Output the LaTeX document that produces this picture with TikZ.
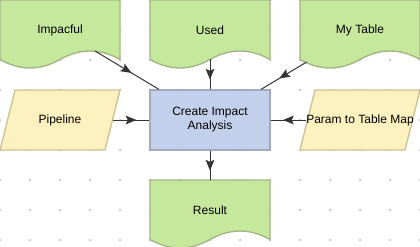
\documentclass[tikz,border=0pt]{standalone}
\usepackage{fontspec}
\setmainfont{Liberation Sans}
\usepackage{xcolor}
\usetikzlibrary{arrows.meta,calc,decorations.markings}
\definecolor{gruen}{HTML}{C6E89C}
\definecolor{gruenrand}{HTML}{A3B584}
\definecolor{gelb}{HTML}{FDF1BF}
\definecolor{gelbrand}{HTML}{CCC192}
\definecolor{blau}{HTML}{C3D0EB}
\definecolor{blaurand}{HTML}{A2ABBC}
\definecolor{linie}{HTML}{333333}
\definecolor{raster}{HTML}{CFCFCF}
\tikzset{
  feld/.style={inner sep=0pt,align=center,minimum width=90pt,minimum height=45pt,
    font=\fontsize{9}{10.5}\selectfont},
  doku/.style={fill=gruen,draw=gruenrand,line width=1pt},
  para/.style={fill=gelb,draw=gelbrand,line width=1pt},
  prozess/.style={feld,fill=blau,draw=blaurand,line width=1pt},
  flow/.style={draw=linie,line width=0.75pt,postaction={decorate},
    decoration={markings,mark=at position 0.5 with
      {\arrow[xshift=4pt]{Stealth[length=8pt,width=6.5pt,inset=1.5pt]}}}}
}
\newcommand{\Dokument}[4]{%
  \filldraw[doku] (#2-60,#3-30) -- (#2+60,#3-30) -- (#2+60,#3+29.5)
    .. controls (#2+40,#3+18.2) and (#2+20,#3+18.2) .. (#2,#3+29.5)
    .. controls (#2-20,#3+40.8) and (#2-40,#3+40.8) .. (#2-60,#3+29.5) -- cycle;
  \node[feld] (#1) at (#2,#3) {#4};
}
\newcommand{\Parallelogramm}[4]{%
  \filldraw[para] (#2-45,#3-30) -- (#2+60,#3-30) -- (#2+45,#3+30) -- (#2-60,#3+30) -- cycle;
  \node[feld,minimum width=78.75pt] (#1) at (#2,#3) {#4};
}
\begin{document}
\begin{tikzpicture}[x=0.75pt,y=-0.75pt]
  \useasboundingbox (0,0) rectangle (420,246);
  \foreach \gx in {0,30,...,420}
    \foreach \gy in {0,30,...,240}
      \fill[raster] (\gx,\gy) circle (1.5);
  \Dokument{impacful}{60}{30}{Impacful}
  \Dokument{used}{210}{30}{Used}
  \Dokument{mytable}{360}{30}{My Table}
  \Parallelogramm{pipeline}{60}{120}{Pipeline}
  \Parallelogramm{param}{360}{120}{Param to Table Map}
  \node[prozess] (create) at (210,120) {Create Impact\\Analysis};
  \Dokument{result}{210}{210}{Result}
  % connectors
  \draw[flow] ($(impacful.center)!30.6pt!(create.center)$) -- (create);
  \draw[flow] ($(used.center)!21.75pt!(create.center)$) -- (create);
  \draw[flow] ($(mytable.center)!46.65pt!(create.center)$) -- (create);
  \draw[flow] (pipeline) -- (create);
  \draw[flow] (param) -- (create);
  \draw[flow] (create) -- (result);
\end{tikzpicture}
\end{document}
